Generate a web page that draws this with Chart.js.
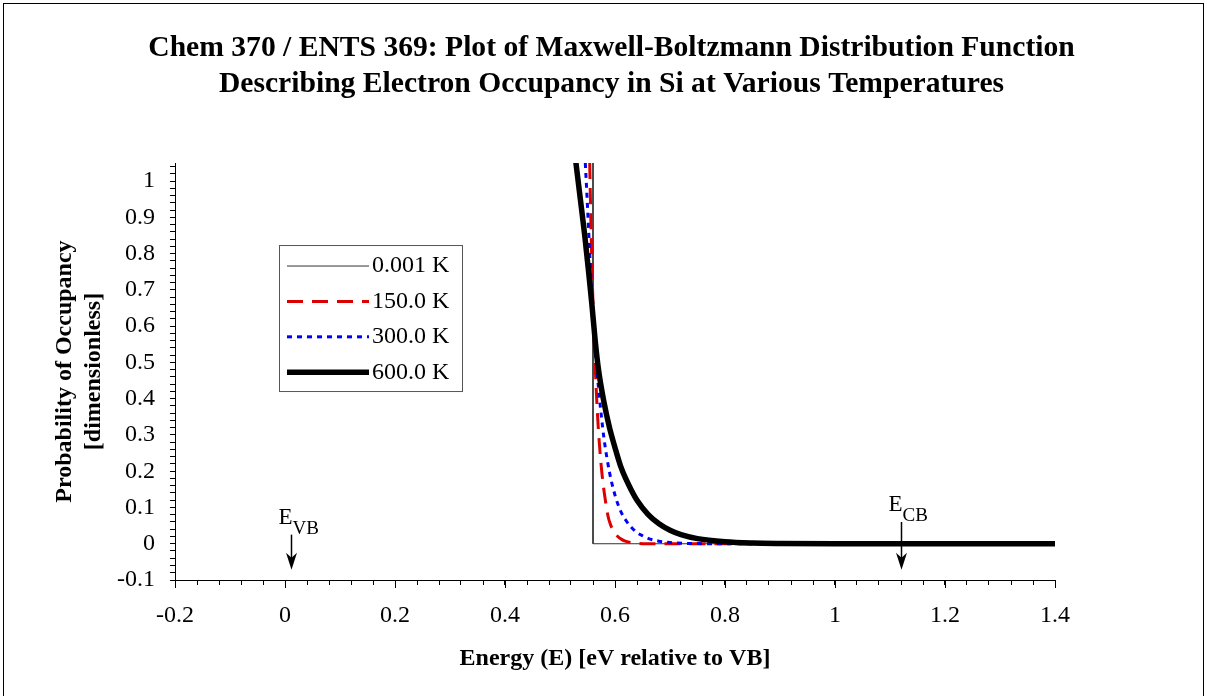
<!DOCTYPE html>
<html>
<head>
<meta charset="utf-8">
<script src="https://cdn.jsdelivr.net/npm/chart.js@4.4.0/dist/chart.umd.min.js"></script>
<style>
  html, body { margin: 0; padding: 0; background: #fff; }
  canvas { display: block; }
</style>
</head>
<body>
<canvas id="mbChart" width="1207" height="696"></canvas>
<script>
const temperatures = ['0.001 K', '150.0 K', '300.0 K', '600.0 K'];

// 0.001 K: step at the Fermi level
const energy001 = [0.56, 0.56, 1.4];
const prob001 = [1.05, 0, 0];

// 150 K
const energy150 = [0.554, 0.556, 0.558, 0.560, 0.562, 0.564, 0.567, 0.570, 0.574, 0.578, 0.582, 0.587, 0.592, 0.598, 0.605, 0.612, 0.620, 0.630, 0.640, 0.660, 0.700, 1.4];
const prob150 = [1.05, 0.90, 0.77, 0.66, 0.57, 0.49, 0.39, 0.31, 0.23, 0.17, 0.125, 0.078, 0.052, 0.034, 0.02, 0.012, 0.0065, 0.003, 0.0014, 0.0003, 0, 0];

// 300 K
const energy300 = [0.546, 0.550, 0.555, 0.560, 0.565, 0.570, 0.575, 0.580, 0.590, 0.600, 0.610, 0.620, 0.630, 0.640, 0.650, 0.660, 0.680, 0.700, 0.730, 0.780, 0.850, 1.4];
const prob300 = [1.05, 0.93, 0.77, 0.63, 0.52, 0.43, 0.355, 0.29, 0.197, 0.134, 0.091, 0.064, 0.045, 0.031, 0.022, 0.015, 0.007, 0.0033, 0.001, 0.0001, 0, 0];

// 600 K
const energy600 = [0.529, 0.537, 0.545, 0.552, 0.558, 0.564, 0.570, 0.580, 0.590, 0.600, 0.610, 0.620, 0.630, 0.640, 0.660, 0.680, 0.700, 0.720, 0.750, 0.800, 0.850, 0.900, 1.0, 1.2, 1.4];
const prob600 = [1.05, 0.95, 0.85, 0.75, 0.66, 0.56, 0.48, 0.39, 0.32, 0.265, 0.215, 0.178, 0.147, 0.12, 0.081, 0.055, 0.037, 0.025, 0.014, 0.0055, 0.002, 0.0008, 0.0001, 0, 0];

// band edge markers
const markerNames = ['VB', 'CB'];
const markerEnergy = [0.01, 1.12];
const markerTail = [0.025, 0.06];
const markerTip = [-0.072, -0.072];

const serif = "'Liberation Serif', 'Times New Roman', serif";
const pts = (xs, ys) => xs.map((x, i) => ({ x: x, y: ys[i] }));

const extras = {
  id: 'extras',
  beforeDraw(chart) {
    const ctx = chart.ctx;
    ctx.save();
    ctx.fillStyle = '#fff';
    ctx.fillRect(0, 0, chart.width, chart.height);
    ctx.strokeStyle = '#000';
    ctx.lineWidth = 1;
    ctx.strokeRect(3.5, 3.5, 1200, 720);
    ctx.restore();
  },
  afterDraw(chart) {
    const ctx = chart.ctx;
    const xs = chart.scales.x, ys = chart.scales.y;
    const area = chart.chartArea;
    ctx.save();

    // longer major ticks on the x axis
    ctx.strokeStyle = '#000';
    ctx.lineWidth = 1;
    xs.ticks.forEach(t => {
      if (Math.abs(t.value / 0.2 - Math.round(t.value / 0.2)) < 1e-6) {
        const px = Math.round(xs.getPixelForValue(t.value)) + 0.5;
        ctx.beginPath();
        ctx.moveTo(px, area.bottom);
        ctx.lineTo(px, area.bottom + 8);
        ctx.stroke();
      }
    });

    // E_VB / E_CB arrows
    markerNames.forEach((name, i) => {
      const x = Math.round(xs.getPixelForValue(markerEnergy[i])) + 0.5;
      const yTail = ys.getPixelForValue(markerTail[i]);
      const yTip = ys.getPixelForValue(markerTip[i]);
      ctx.strokeStyle = '#000';
      ctx.fillStyle = '#000';
      ctx.lineWidth = 1.5;
      ctx.beginPath();
      ctx.moveTo(x, yTail);
      ctx.lineTo(x, yTip - 8);
      ctx.stroke();
      ctx.beginPath();
      ctx.moveTo(x, yTip);
      ctx.lineTo(x - 5.5, yTip - 17);
      ctx.lineTo(x, yTip - 12);
      ctx.lineTo(x + 5.5, yTip - 17);
      ctx.closePath();
      ctx.fill();
      ctx.textAlign = 'left';
      ctx.textBaseline = 'alphabetic';
      ctx.font = '23px ' + serif;
      const tx = x - 13, ty = yTail - 11;
      ctx.fillText('E', tx, ty);
      const w = ctx.measureText('E').width;
      ctx.font = '19px ' + serif;
      ctx.fillText(name, tx + w, ty + 10);
    });

    // legend box
    const lx = area.left + 104.5, ly = area.top + 82.5;
    ctx.fillStyle = '#fff';
    ctx.fillRect(lx, ly, 183, 146);
    ctx.strokeStyle = '#555';
    ctx.lineWidth = 1;
    ctx.strokeRect(lx, ly, 183, 146);
    chart.data.datasets.forEach((ds, i) => {
      const y = ly + 20.5 + i * 35.4;
      ctx.strokeStyle = ds.borderColor;
      ctx.lineWidth = ds.borderWidth;
      ctx.setLineDash(ds.borderDash || []);
      ctx.lineCap = 'butt';
      ctx.beginPath();
      ctx.moveTo(lx + 7.5, y);
      ctx.lineTo(lx + 89.5, y);
      ctx.stroke();
      ctx.setLineDash([]);
      ctx.fillStyle = '#000';
      ctx.font = '24px ' + serif;
      ctx.textAlign = 'left';
      ctx.textBaseline = 'middle';
      ctx.fillText(ds.label, lx + 92.5, y);
    });
    ctx.restore();
  }
};

const data = {
  datasets: [
    { label: temperatures[0], data: pts(energy001, prob001), borderColor: '#333333', borderWidth: 1, tension: 0, order: 3 },
    { label: temperatures[1], data: pts(energy150, prob150), borderColor: '#dd0000', borderWidth: 3, borderDash: [16, 9], cubicInterpolationMode: 'monotone', order: 2 },
    { label: temperatures[2], data: pts(energy300, prob300), borderColor: '#0000ff', borderWidth: 3, borderDash: [5, 5], cubicInterpolationMode: 'monotone', order: 1 },
    { label: temperatures[3], data: pts(energy600, prob600), borderColor: '#000000', borderWidth: 5.5, borderCapStyle: 'round', cubicInterpolationMode: 'monotone', order: 0 }
  ]
};

const config = {
  type: 'scatter',
  data: data,
  options: {
    responsive: false,
    animation: false,
    showLine: true,
    elements: { point: { radius: 0 } },
    layout: { padding: { left: 16, right: 0, top: 0, bottom: 0 } },
    plugins: {
      legend: { display: false },
      tooltip: { enabled: false },
      title: {
        display: true,
        text: ['Chem 370 / ENTS 369: Plot of Maxwell-Boltzmann Distribution Function',
               'Describing Electron Occupancy in Si at Various Temperatures'],
        color: '#000',
        font: { family: serif, size: 29.6, weight: 'bold', lineHeight: 1.22 },
        padding: { top: 30, bottom: 60.8 }
      }
    },
    scales: {
      x: {
        type: 'linear',
        min: -0.2,
        max: 1.4,
        afterFit(scale) { scale.height = 116; },
        border: { display: true, color: '#000', width: 1 },
        grid: { display: true, drawOnChartArea: false, drawTicks: true, tickLength: 5, color: '#000', tickColor: '#000' },
        ticks: {
          stepSize: 0.04,
          autoSkip: false,
          maxRotation: 0,
          padding: 16,
          color: '#000',
          font: { family: serif, size: 24 },
          callback: v => Math.abs(v / 0.2 - Math.round(v / 0.2)) < 1e-6 ? String(Math.round(v * 10) / 10) : ''
        },
        title: {
          display: true,
          text: 'Energy (E) [eV relative to VB]',
          color: '#000',
          font: { family: serif, size: 24, weight: 'bold', lineHeight: 1.2 },
          padding: { top: 0, bottom: 23 }
        }
      },
      y: {
        type: 'linear',
        min: -0.1,
        max: 1.05,
        afterFit(scale) { scale.width = 159; },
        border: { display: true, color: '#000', width: 1 },
        grid: { display: true, drawOnChartArea: false, drawTicks: true, tickLength: 5, color: '#000', tickColor: '#000' },
        ticks: {
          stepSize: 0.02,
          includeBounds: false,
          autoSkip: false,
          padding: 15,
          color: '#000',
          font: { family: serif, size: 24 },
          callback: v => Math.abs(v * 10 - Math.round(v * 10)) < 1e-6 && v < 1.01 ? String(Math.round(v * 10) / 10) : ''
        },
        title: {
          display: true,
          text: ['Probability of Occupancy', '[dimensionless]'],
          color: '#000',
          font: { family: serif, size: 24, weight: 'bold', lineHeight: 1.22 },
          padding: { top: 34, bottom: 0 }
        }
      },
      yRight: {
        type: 'linear',
        position: 'right',
        display: true,
        afterFit(scale) { scale.width = 152; },
        border: { display: false },
        grid: { display: false },
        ticks: { display: false }
      }
    }
  },
  plugins: [extras]
};

new Chart(document.getElementById('mbChart'), config);
</script>
</body>
</html>
